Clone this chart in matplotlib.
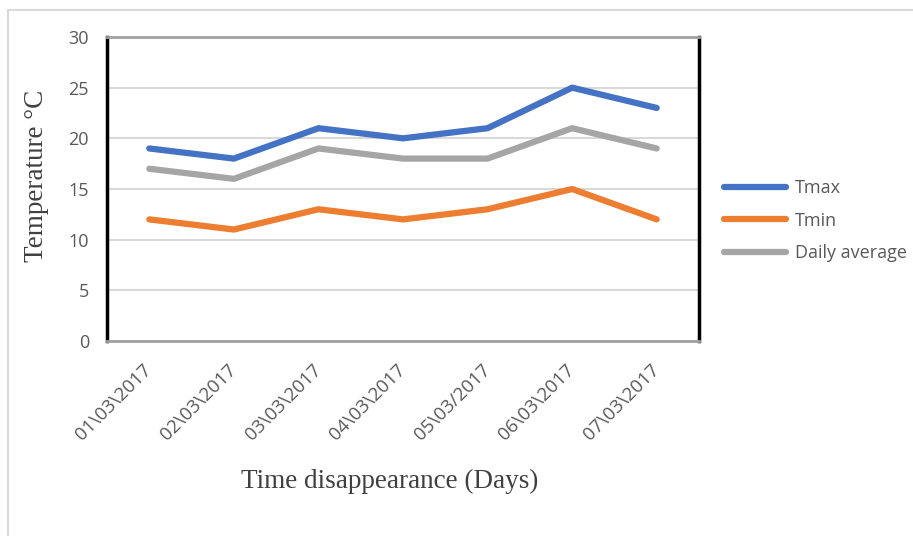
import matplotlib.pyplot as plt
from matplotlib.patches import Rectangle

days = ["01\\03\\2017", "02\\03\\2017", "03\\03\\2017", "04\\03\\2017",
        "05\\03/2017", "06\\03\\2017", "07\\03\\2017"]
tmax = [19, 18, 21, 20, 21, 25, 23]
tmin = [12, 11, 13, 12, 13, 15, 12]
daily_avg = [17, 16, 19, 18, 18, 21, 19]
y_ticks = [0, 5, 10, 15, 20, 25, 30]

fig = plt.figure(figsize=(9.13, 5.36), dpi=100)

# light outer chart frame
fig.patches.append(Rectangle((8 / 913, -0.1), 1.2, 1 - 10 / 536 + 0.1,
                             transform=fig.transFigure, fill=False,
                             edgecolor="#D9D9D9", linewidth=1.5))

ax = fig.add_axes([107 / 913, 1 - 341 / 536, 592 / 913, 304 / 536])
x = range(len(days))
ax.plot(x, tmax, color="#4472C4", lw=4.5, solid_capstyle="round", label="Tmax")
ax.plot(x, tmin, color="#ED7D31", lw=4.5, solid_capstyle="round", label="Tmin")
ax.plot(x, daily_avg, color="#A5A5A5", lw=4.5, solid_capstyle="round", label="Daily average")

ax.set_xlim(-0.5, len(days) - 0.5)
ax.set_ylim(0, 30)
ax.set_yticks(y_ticks)
ax.set_xticks(list(x))
ax.set_xticklabels(days, rotation=45, ha="right", va="center",
                   rotation_mode="anchor")
ax.yaxis.grid(True, color="#D9D9D9", lw=1.5)
ax.set_axisbelow(True)
ax.tick_params(axis="both", length=0, labelsize=13.5, labelcolor="#595959",
               labelfontfamily="Open Sans")
ax.tick_params(axis="y", labelsize=13, pad=13)
ax.tick_params(axis="x", pad=19)

for side in ("left", "right"):
    ax.spines[side].set_color("black")
    ax.spines[side].set_linewidth(2.5)
for side in ("top", "bottom"):
    ax.spines[side].set_color("#A0A0A0")
    ax.spines[side].set_linewidth(2)

ax.set_ylabel("Temperature \u00b0C", family="Liberation Serif", fontsize=19.5,
              color="#404040")
ax.yaxis.set_label_coords((49 - 107) / 592, (341 - 176) / 304)
fig.text(390 / 913, 1 - 481 / 536, "Time disappearance (Days)",
         family="Liberation Serif", fontsize=19.5, color="#404040",
         ha="center", va="center")

leg = fig.legend(loc="upper left", bbox_to_anchor=(708 / 913, 1 - 163 / 536),
                 frameon=False, handlelength=3.4, handletextpad=0.5,
                 labelspacing=0.8,
                 prop={"family": "Open Sans", "size": 13})
for t in leg.get_texts():
    t.set_color("#595959")

fig.savefig("out.png", dpi=100)
